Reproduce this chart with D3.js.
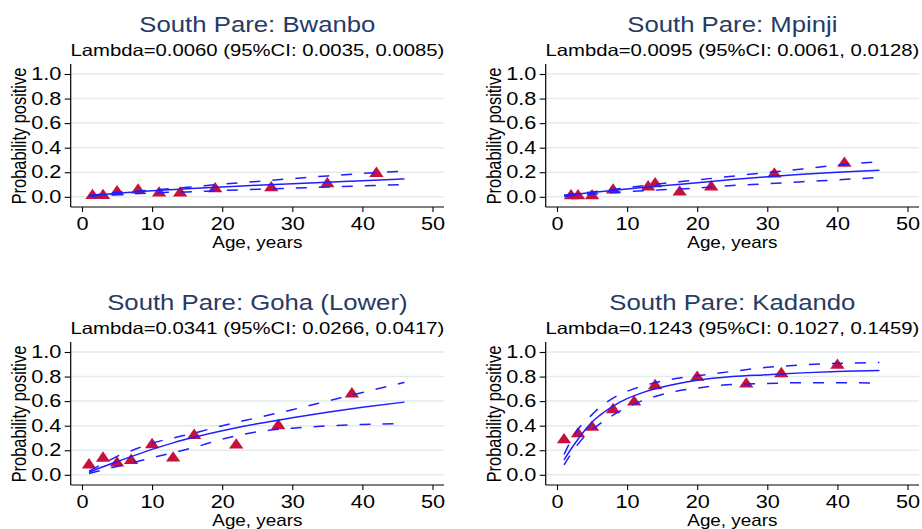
<!DOCTYPE html>
<html>
<head>
<meta charset="utf-8">
<script src="https://cdn.jsdelivr.net/npm/d3@7"></script>
<style>
body { margin: 0; background: #fff; }
svg { display: block; font-family: "Liberation Sans", Arial, sans-serif; }
</style>
</head>
<body>
<svg id="chart" width="922" height="529"></svg>
<script>
'use strict';

// site names and force of infection estimates
const siteNames = ['Bwanbo', 'Mpinji', 'Goha (Lower)', 'Kadando'];
const lambdaEst = [0.0060, 0.0095, 0.0341, 0.1243];
const lambdaLo = [0.0035, 0.0061, 0.0266, 0.1027];
const lambdaHi = [0.0085, 0.0128, 0.0417, 0.1459];

const xTicks = [0, 10, 20, 30, 40, 50];
const yTicks = [0, 0.2, 0.4, 0.6, 0.8, 1.0];

const bwanboAge = [1.5, 3, 5, 8, 11, 14, 19, 27, 35, 42];
const bwanboPos = [0.01, 0.01, 0.04, 0.055, 0.03, 0.03, 0.065, 0.073, 0.105, 0.19];
const mpinjiAge = [2, 3, 5, 8, 13, 14, 17.5, 22, 31, 41];
const mpinjiPos = [0.008, 0.008, 0.008, 0.055, 0.08, 0.105, 0.038, 0.08, 0.185, 0.272];
const gohaAge = [1, 3, 5, 7, 10, 13, 16, 22, 28, 38.5];
const gohaPos = [0.08, 0.135, 0.095, 0.117, 0.245, 0.136, 0.32, 0.242, 0.40, 0.658];
const kadandoAge = [1, 3, 5, 8, 11, 14, 20, 27, 32, 40];
const kadandoPos = [0.285, 0.334, 0.386, 0.53, 0.592, 0.725, 0.793, 0.739, 0.823, 0.891];

// fitted curves with 95% CI
const slowAges = [1, 5, 10, 15, 20, 25, 30, 35, 40, 46];
const bwanboFit = [0.007, 0.028, 0.05, 0.065, 0.08, 0.094, 0.107, 0.119, 0.131, 0.145];
const bwanboHi = [0.01, 0.035, 0.055, 0.077, 0.103, 0.125, 0.148, 0.17, 0.19, 0.208];
const bwanboLo = [0.004, 0.016, 0.032, 0.04, 0.051, 0.061, 0.07, 0.08, 0.089, 0.1];
const mpinjiFit = [0.01, 0.035, 0.063, 0.09, 0.114, 0.14, 0.163, 0.183, 0.2, 0.217];
const mpinjiHi = [0.012, 0.04, 0.075, 0.108, 0.137, 0.168, 0.198, 0.226, 0.258, 0.285];
const mpinjiLo = [0.005, 0.022, 0.042, 0.057, 0.072, 0.092, 0.106, 0.123, 0.138, 0.158];

const gohaAges = [1, 3, 5, 7, 10, 13, 16, 20, 25, 30, 35, 40, 46];
const gohaFit = [0.02, 0.065, 0.107, 0.148, 0.207, 0.26, 0.305, 0.358, 0.415, 0.465, 0.51, 0.55, 0.592];
const gohaHi = [0.03, 0.09, 0.15, 0.195, 0.258, 0.3, 0.34, 0.4, 0.465, 0.53, 0.6, 0.67, 0.752];
const gohaLo = [0.01, 0.04, 0.068, 0.095, 0.139, 0.18, 0.223, 0.29, 0.35, 0.38, 0.398, 0.41, 0.416];

const kadandoAges = [1, 2, 3, 4, 5, 6, 8, 10, 12, 14, 17, 20, 25, 30, 35, 40, 46];
const kadandoFit = [0.12, 0.21, 0.29, 0.365, 0.43, 0.48, 0.56, 0.62, 0.665, 0.70, 0.74, 0.77, 0.80, 0.815, 0.83, 0.842, 0.85];
const kadandoHi = [0.165, 0.28, 0.37, 0.435, 0.49, 0.545, 0.625, 0.68, 0.72, 0.75, 0.785, 0.807, 0.842, 0.875, 0.895, 0.907, 0.915];
const kadandoLo = [0.08, 0.17, 0.25, 0.315, 0.367, 0.41, 0.486, 0.55, 0.6, 0.638, 0.68, 0.706, 0.736, 0.744, 0.75, 0.75, 0.747];

const panels = [
  {obsAge: bwanboAge, obs: bwanboPos, ages: slowAges, fit: bwanboFit, hi: bwanboHi, lo: bwanboLo},
  {obsAge: mpinjiAge, obs: mpinjiPos, ages: slowAges, fit: mpinjiFit, hi: mpinjiHi, lo: mpinjiLo},
  {obsAge: gohaAge, obs: gohaPos, ages: gohaAges, fit: gohaFit, hi: gohaHi, lo: gohaLo},
  {obsAge: kadandoAge, obs: kadandoPos, ages: kadandoAges, fit: kadandoFit, hi: kadandoHi, lo: kadandoLo}
];

const kOffsets = [[0, 0], [475, 0], [0, 278], [475, 278]];
const kFrame = {left: 70.7, right: 444, top: 64, bottom: 207};
const kTitleColor = '#263b66';
const kLineColor = '#1e1eff';
const kMarkColor = '#c8103c';
const kGridColor = '#e2ebee';
const fmt4 = d3.format('.4f');

function DrawPanel(svg, p, i) {
  const off = kOffsets[i];
  const g = svg.append('g').attr('transform', 'translate(' + off[0] + ',' + off[1] + ')');
  const x = d3.scaleLinear().domain([0, 50]).range([82, 432.5]);
  const y = d3.scaleLinear().domain([0, 1]).range([196.8, 74]);
  const cx = (kFrame.left + kFrame.right) / 2;

  // titles
  g.append('text')
      .attr('transform', 'translate(' + cx + ',31.5) scale(1.17,1)')
      .attr('text-anchor', 'middle')
      .attr('font-size', 22)
      .attr('fill', kTitleColor)
      .text('South Pare: ' + siteNames[i]);
  g.append('text')
      .attr('transform', 'translate(' + cx + ',56) scale(1.23,1)')
      .attr('text-anchor', 'middle')
      .attr('font-size', 16.5)
      .attr('fill', '#000')
      .text('Lambda=' + fmt4(lambdaEst[i]) + ' (95%CI: ' + fmt4(lambdaLo[i]) + ', ' + fmt4(lambdaHi[i]) + ')');

  // grid
  g.append('g').selectAll('line')
      .data(yTicks)
    .join('line')
      .attr('x1', kFrame.left).attr('x2', kFrame.right)
      .attr('y1', y).attr('y2', y)
      .attr('stroke', kGridColor)
      .attr('stroke-width', 1.5);

  // axes
  const yAxis = g.append('g')
      .attr('transform', 'translate(' + kFrame.left + ',0)')
      .call(d3.axisLeft(y).tickValues(yTicks).tickFormat(d3.format('.1f')).tickSize(6).tickPadding(1.5));
  const xAxis = g.append('g')
      .attr('transform', 'translate(0,' + kFrame.bottom + ')')
      .call(d3.axisBottom(x).tickValues(xTicks).tickSize(5).tickPadding(6));
  [yAxis, xAxis].forEach(function(a) {
    a.select('.domain').remove();
    a.attr('font-family', null).attr('font-size', null);
    a.selectAll('line').attr('stroke', '#000').attr('stroke-width', 1.1);
    a.selectAll('text').attr('font-size', 17.5).attr('fill', '#000')
        .attr('transform', 'scale(1.24,1)');
  });
  g.append('line')
      .attr('x1', kFrame.left).attr('x2', kFrame.left)
      .attr('y1', kFrame.top).attr('y2', kFrame.bottom)
      .attr('stroke', '#000').attr('stroke-width', 1.2);
  g.append('line')
      .attr('x1', kFrame.left).attr('x2', kFrame.right)
      .attr('y1', kFrame.bottom).attr('y2', kFrame.bottom)
      .attr('stroke', '#000').attr('stroke-width', 1.2);

  g.append('text')
      .attr('transform', 'translate(26,136) scale(1.18,1) rotate(-90)')
      .attr('text-anchor', 'middle')
      .attr('font-size', 16.4)
      .attr('fill', '#000')
      .text('Probability positive');
  g.append('text')
      .attr('transform', 'translate(' + cx + ',248) scale(1.15,1)')
      .attr('text-anchor', 'middle')
      .attr('font-size', 16.4)
      .attr('fill', '#000')
      .text('Age, years');

  // observed points
  g.append('g').selectAll('path')
      .data(d3.zip(p.obsAge, p.obs))
    .join('path')
      .attr('d', d3.symbol(d3.symbolTriangle, 62))
      .attr('transform', function(d) {
        return 'translate(' + x(d[0]) + ',' + y(d[1]) + ') scale(1.2,1)';
      })
      .attr('fill', kMarkColor);

  // fitted curve and CI
  const line = d3.line()
      .x(function(d) { return x(d[0]); })
      .y(function(d) { return y(d[1]); })
      .curve(d3.curveMonotoneX);
  [[p.fit, null], [p.hi, '11,12'], [p.lo, '11,12']].forEach(function(s) {
    g.append('path')
        .attr('d', line(d3.zip(p.ages, s[0])))
        .attr('fill', 'none')
        .attr('stroke', kLineColor)
        .attr('stroke-width', 1.5)
        .attr('stroke-dasharray', s[1]);
  });
}

function Main() {
  const svg = d3.select('#chart');
  svg.append('rect').attr('width', 922).attr('height', 529).attr('fill', '#fff');
  panels.forEach(function(p, i) {
    DrawPanel(svg, p, i);
  });
}

Main();
</script>
</body>
</html>
